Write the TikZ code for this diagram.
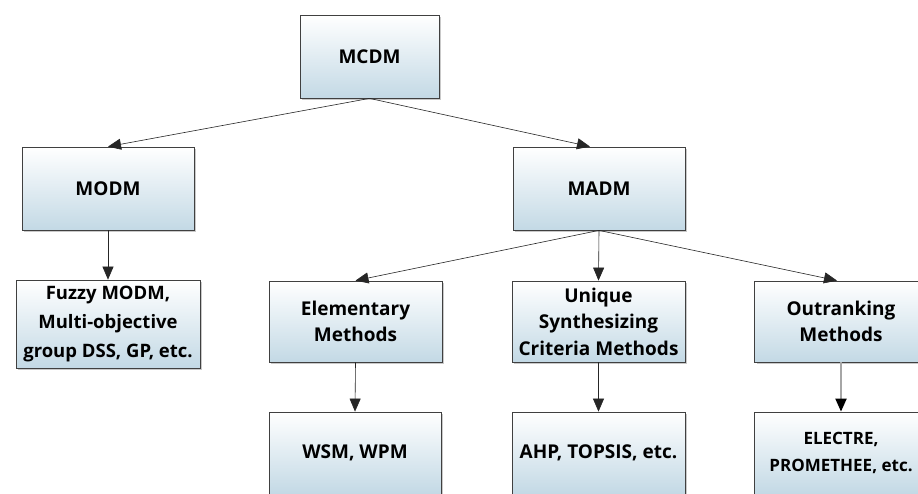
\documentclass[tikz,border=0pt]{standalone}
\usepackage{fontspec}
\setmainfont{Open Sans}
\usetikzlibrary{arrows.meta,shadows}

\begin{document}
\begin{tikzpicture}[x=1pt,y=-1pt]

\tikzstyle{box}=[draw=black!75, line width=0.8pt, top color=white, bottom color=boxblue,
  drop shadow={shadow xshift=2pt, shadow yshift=-2pt, opacity=0.35, fill=black!60},
  align=center, inner sep=2pt, font=\fontsize{19}{26.5}\selectfont\bfseries]
\tikzstyle{link}=[draw=black!85, line width=0.6pt, -{Triangle[length=13pt,width=11pt]}]
\definecolor{boxblue}{HTML}{C3D9E5}

\clip (0,0) rectangle (918,493);
\fill[white] (0,0) rectangle (918,493);

% top level
\node[box, minimum width=139pt, minimum height=83pt] (mcdm) at (369.5,56.5) {MCDM};

\node[box, minimum width=172pt, minimum height=83pt] (modm) at (108,188.5) {MODM};
\node[box, minimum width=172pt, minimum height=83pt] (madm) at (599,188.5) {MADM};

\node[box, minimum width=184pt, minimum height=88pt, font=\fontsize{18.5}{29}\selectfont\bfseries] (fuzzy) at (108,324) {Fuzzy MODM,\\Multi-objective\\group DSS, GP, etc.};

% MADM families
\node[box, minimum width=173pt, minimum height=81pt] (elem) at (355.5,321.5) {Elementary\\Methods};
\node[box, minimum width=173pt, minimum height=81pt] (unique) at (598.5,321.5) {Unique\\Synthesizing\\Criteria Methods};
\node[box, minimum width=173pt, minimum height=81pt] (outrank) at (841,321.5) {Outranking\\Methods};

% examples (cut by the bottom edge)
\node[box, minimum width=172pt, minimum height=82pt] (wsm) at (355,453) {WSM, WPM};
\node[box, minimum width=173pt, minimum height=82pt] (ahp) at (598.5,453) {AHP, TOPSIS, etc.};
\node[box, minimum width=173pt, minimum height=82pt, font=\fontsize{17}{26.5}\selectfont\bfseries] (electre) at (841,453) {ELECTRE,\\PROMETHEE, etc.};

\draw[link] (mcdm.south) -- (modm.north);
\draw[link] (mcdm.south) -- ([xshift=-9pt]madm.north);
\draw[link] (modm.south) -- (fuzzy.north);
\draw[link] (madm.south) -- (elem.north);
\draw[link] (madm.south) -- (unique.north);
\draw[link] (madm.south) -- ([xshift=-4pt]outrank.north);
\draw[link] (elem.south) -- (wsm.north);
\draw[link] (unique.south) -- (ahp.north);
\draw[link, draw=black!35, line width=2pt, -{Triangle[length=13pt,width=11pt,color=black]}] (outrank.south) -- (electre.north);

\end{tikzpicture}
\end{document}
